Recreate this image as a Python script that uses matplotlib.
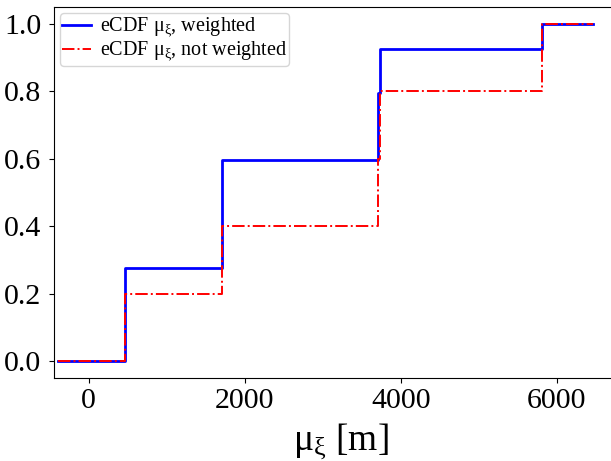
import matplotlib
matplotlib.use("Agg")
import matplotlib.pyplot as plt

plt.rcParams['font.family'] = ['Liberation Serif', 'DejaVu Serif']
plt.rcParams['mathtext.fontset'] = 'custom'
plt.rcParams['mathtext.rm'] = 'Liberation Serif'
plt.rcParams['mathtext.it'] = 'Liberation Serif'
plt.rcParams['mathtext.bf'] = 'Liberation Serif:bold'

# step positions (m) and eCDF levels
x_steps = [-390, 465, 1705, 3705, 3740, 5815, 6460]
ecdf_weighted = [0.0, 0.275, 0.595, 0.795, 0.925, 1.0, 1.0]
ecdf_unweighted = [0.0, 0.2, 0.4, 0.6, 0.8, 1.0, 1.0]

labels = [r'eCDF μ$_{ξ}$, weighted', r'eCDF μ$_{ξ}$, not weighted']
xlabel = r'μ$_{ξ}$ [m]'
xticks = [0, 2000, 4000, 6000]
yticks = [0.0, 0.2, 0.4, 0.6, 0.8, 1.0]

fig = plt.figure(figsize=(6.11, 4.61), dpi=100)
W, H = 611, 461
left, right, top, bottom = 54, 628, 7, 378
ax = fig.add_axes([left / W, (H - bottom) / H, (right - left) / W, (bottom - top) / H])

ax.step(x_steps, ecdf_weighted, where='post', color='blue', lw=2.0, label=labels[0])
ax.step(x_steps, ecdf_unweighted, where='post', color='red', lw=1.4, ls='-.', label=labels[1])

ax.set_xlim(-445, 6914)
ax.set_ylim(-0.05, 1.05)
ax.set_xticks(xticks)
ax.set_yticks(yticks)
ax.set_yticklabels([f'{v:.1f}' for v in yticks])
ax.tick_params(labelsize=21.5)
ax.tick_params(axis='y', pad=5.5)
ax.spines['right'].set_visible(False)
ax.set_xlabel(xlabel, fontsize=27, labelpad=6)

ax.legend(loc='upper left', fontsize=14.5, handlelength=1.4, handletextpad=0.45,
          borderaxespad=0.3, labelspacing=0.0, borderpad=0.12, framealpha=0.8)

fig.savefig('out.png', dpi=100)
